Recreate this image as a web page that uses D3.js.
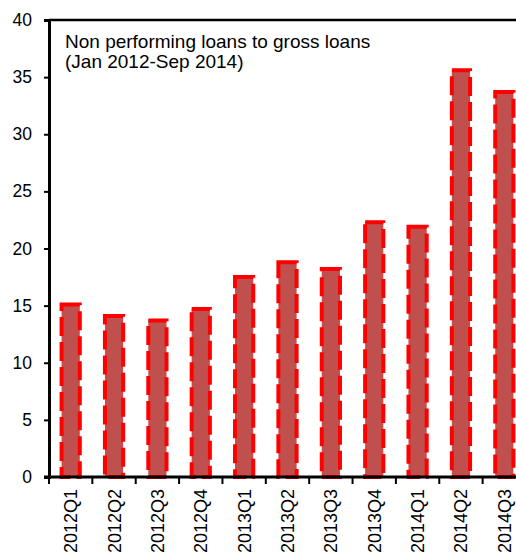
<!DOCTYPE html>
<html>
<head>
<meta charset="utf-8">
<script src="https://cdn.jsdelivr.net/npm/d3@7"></script>
<style>
  html, body { margin: 0; padding: 0; background: #fff; overflow: hidden; }
  svg { display: block; font-family: "Liberation Sans", Arial, sans-serif; }
</style>
</head>
<body>
<svg id="chart" width="516" height="556"></svg>
<script>
const quarters = ["2012Q1","2012Q2","2012Q3","2012Q4","2013Q1","2013Q2","2013Q3","2013Q4","2014Q1","2014Q2","2014Q3"];
const nplRatio = [15.1, 14.1, 13.7, 14.7, 17.5, 18.8, 18.2, 22.3, 21.9, 35.6, 33.7];
const yTicks = [0, 5, 10, 15, 20, 25, 30, 35, 40];
const titleLines = ["Non performing loans to gross loans", "(Jan 2012-Sep 2014)"];

const svg = d3.select("#chart");

// plot area (the right edge runs a bit past the window, as in the source)
const plotL = 49, plotR = 526, plotT = 20, plotB = 477;

const x = d3.scaleBand().domain(quarters).range([plotL, plotR]).paddingInner(0.58).paddingOuter(0.29);
const y = d3.scaleLinear().domain([0, 40]).range([plotB, plotT]);

// bars
svg.append("g").selectAll("rect")
  .data(quarters)
  .join("rect")
  .attr("x", d => x(d))
  .attr("y", (d, i) => y(nplRatio[i]))
  .attr("width", x.bandwidth())
  .attr("height", (d, i) => y(0) - y(nplRatio[i]))
  .attr("fill", "#c0504d")
  .attr("stroke", "#ff0000")
  .attr("stroke-width", 4)
  .attr("stroke-dasharray", "19,6");

// frame top line
svg.append("line")
  .attr("x1", plotL).attr("x2", 516).attr("y1", plotT).attr("y2", plotT)
  .attr("stroke", "#000").attr("stroke-width", 2.5);

// y axis
const yAxis = svg.append("g")
  .attr("transform", `translate(${plotL},0)`)
  .call(d3.axisLeft(y).tickValues(yTicks).tickSize(5).tickPadding(12));
yAxis.select(".domain").attr("stroke-width", 3);
yAxis.selectAll(".tick line").attr("stroke-width", 2);
yAxis.selectAll("text").attr("font-size", 17.5).attr("fill", "#000")
  .style("font-family", "Liberation Sans, Arial, sans-serif");

// x axis: ticks between the categories
const xAxisG = svg.append("g");
xAxisG.append("line")
  .attr("x1", plotL - 5).attr("x2", 516).attr("y1", plotB).attr("y2", plotB)
  .attr("stroke", "#000").attr("stroke-width", 3);
const step = x.step();
const edges = d3.range(quarters.length + 1).map(i => plotL + i * step);
xAxisG.selectAll("line.tk")
  .data(edges)
  .join("line")
  .attr("class", "tk")
  .attr("x1", d => d).attr("x2", d => d)
  .attr("y1", plotB).attr("y2", plotB + 7)
  .attr("stroke", "#000").attr("stroke-width", 2);

xAxisG.selectAll("text")
  .data(quarters)
  .join("text")
  .attr("transform", d => `translate(${x(d) + x.bandwidth() / 2},${plotB + 12}) rotate(-90)`)
  .attr("text-anchor", "end")
  .attr("dy", "0.36em")
  .attr("font-size", 18)
  .attr("fill", "#000")
  .text(d => d);

// title
svg.append("g").selectAll("text")
  .data(titleLines)
  .join("text")
  .attr("x", 65)
  .attr("y", (d, i) => 48 + i * 20)
  .attr("font-size", 19)
  .attr("fill", "#000")
  .text(d => d);
</script>
</body>
</html>
